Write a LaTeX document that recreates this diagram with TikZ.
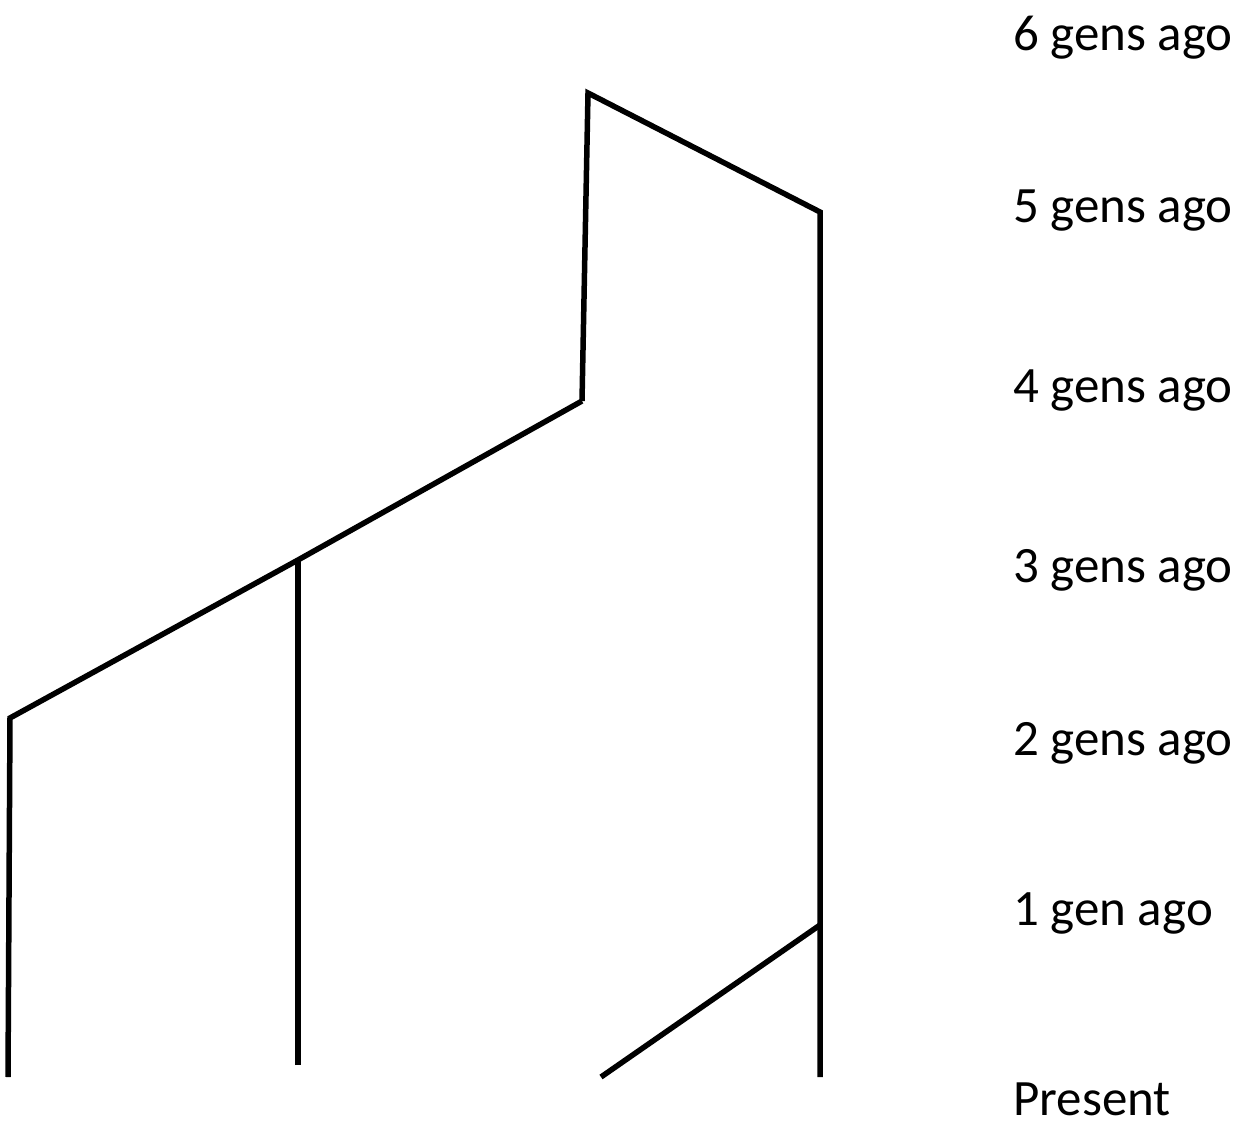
\documentclass[tikz,border=0pt]{standalone}
\usepackage{fontspec}
\setmainfont{Carlito}
\usetikzlibrary{positioning}

\tikzset{
  lineage/.style={line width=0.11cm, black, line join=miter},
  genlabel/.style={anchor=west, inner sep=0pt, font=\fontsize{29}{33}\selectfont}
}

\begin{document}
\begin{tikzpicture}[x=0.02cm, y=-0.02cm]
\useasboundingbox (0,0) rectangle (1247,1128);
% branch points
\coordinate (root) at (588,93);
\coordinate (rtop) at (820,212);
\coordinate (lmid) at (582,401);
\coordinate (mid) at (298,560);
\coordinate (ltop) at (10,718);
\coordinate (rjoin) at (820,925);
\coordinate (a) at (8,1077);
\coordinate (b) at (298,1065);
\coordinate (c) at (601,1077);
\coordinate (d) at (820,1077);
% tree
\draw[lineage] (lmid) -- (root) -- (rtop) -- (d);
\draw[lineage] (a) -- (ltop) -- (mid) -- (lmid);
\draw[lineage] (b) -- (mid);
\draw[lineage] (c) -- (rjoin);
% time axis labels
\node[genlabel] (g6) at (1013,38) {6 gens ago};
\node[genlabel] (g5) at (1013,211) {5 gens ago};
\node[genlabel] (g4) at (1013,391) {4 gens ago};
\node[genlabel] (g3) at (1013,570) {3 gens ago};
\node[genlabel] (g2) at (1013,743) {2 gens ago};
\node[genlabel] (g1) at (1013,913) {1 gen ago};
\node[genlabel] (g0) at (1013,1099) {Present};
\end{tikzpicture}
\end{document}
